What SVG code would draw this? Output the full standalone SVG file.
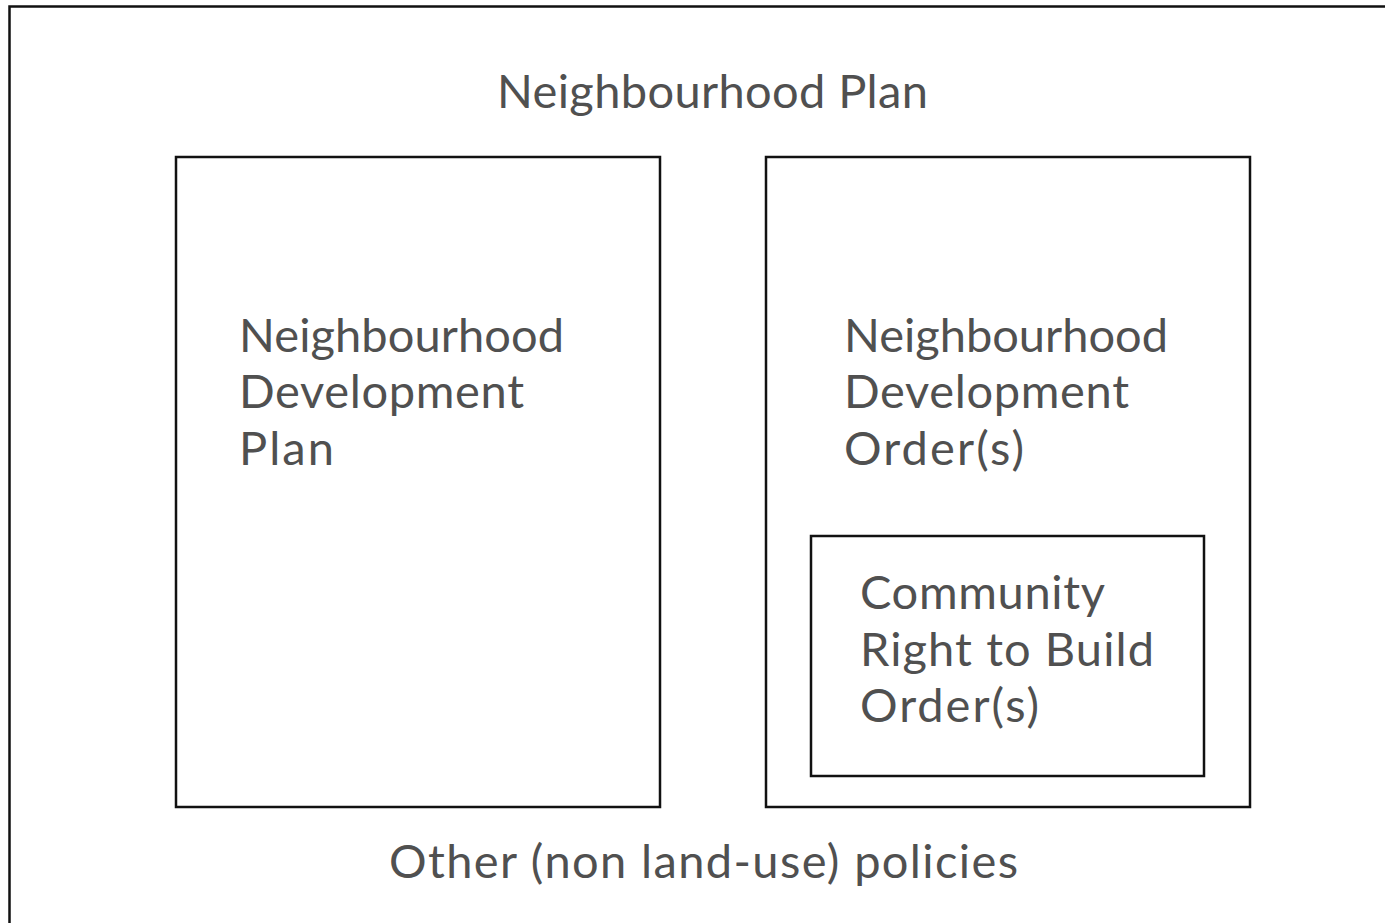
<svg xmlns="http://www.w3.org/2000/svg" width="1385" height="923" viewBox="0 0 1385 923">
<style>
.box{fill:none;stroke:#111;stroke-width:2.5}
.t{font-family:Lato,"Liberation Sans",sans-serif;font-size:47px;fill:#505050}
</style>
<rect width="1385" height="923" fill="#fff"/>
<g id="neighbourhood-plan">
<rect class="box" x="9.5" y="6.5" width="1390" height="930"/>
<text class="t" x="497" y="108" textLength="431" lengthAdjust="spacing">Neighbourhood Plan</text>
<text class="t" x="389" y="878" textLength="629" lengthAdjust="spacing">Other (non land-use) policies</text>
</g>
<g id="ndp">
<rect class="box" x="176" y="157" width="484" height="650"/>
<text class="t"><tspan x="239" y="352" textLength="325">Neighbourhood</tspan></text>
<text class="t"><tspan x="239" y="408" textLength="285">Development</tspan></text>
<text class="t"><tspan x="239" y="465" textLength="95">Plan</tspan></text>
</g>
<g id="ndo">
<rect class="box" x="766" y="157" width="484" height="650"/>
<text class="t" x="844" y="352" textLength="324">Neighbourhood</text>
<text class="t" x="844" y="408" textLength="285">Development</text>
<text class="t" x="844" y="465" textLength="180">Order(s)</text>
</g>
<g id="crtbo">
<rect class="box" x="811" y="536" width="393" height="240"/>
<text class="t" x="860" y="609" textLength="245">Community</text>
<text class="t" x="860" y="666" textLength="294">Right to Build</text>
<text class="t" x="860" y="722" textLength="179">Order(s)</text>
</g>
<g id="connectors"/>
</svg>
